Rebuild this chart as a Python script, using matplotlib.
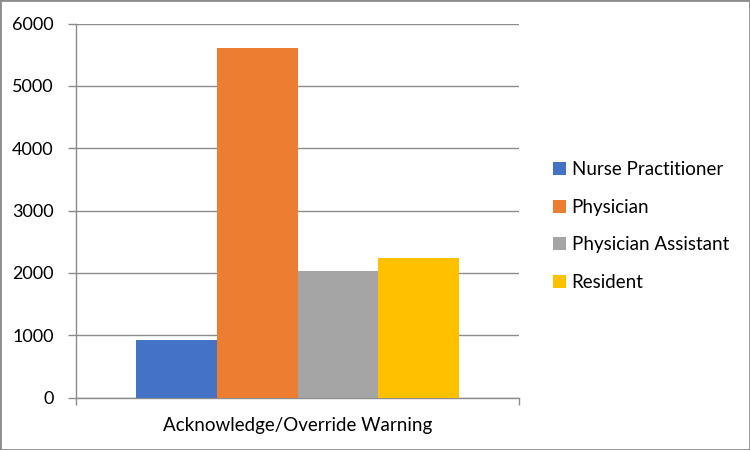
import matplotlib
matplotlib.use("Agg")
import matplotlib.pyplot as plt
from matplotlib.patches import Rectangle
import numpy as np

category = "Acknowledge/Override Warning"
series = ["Nurse Practitioner", "Physician", "Physician Assistant", "Resident"]
values = [920, 5610, 2030, 2235]
colors = ["#4472C4", "#ED7D31", "#A5A5A5", "#FFC000"]
yticks = [0, 1000, 2000, 3000, 4000, 5000, 6000]

plt.rcParams['font.family'] = ['Lato', 'DejaVu Sans']

fig = plt.figure(figsize=7.5 * np.array([1, 0.6]), dpi=100)
ax = fig.add_axes([76 / 750, 1 - 397.5 / 450, 443 / 750, 374 / 450])

bw = 0.1825
n = len(series)
for i, (s, v, c) in enumerate(zip(series, values, colors)):
    x = (i - (n - 1) / 2) * bw
    ax.bar(x, v, width=bw, color=c, label=s, zorder=3, linewidth=0)

ax.set_xlim(-0.5, 0.5)
ax.set_ylim(0, 6000)
ax.set_yticks(yticks)
ax.set_yticklabels([str(t) for t in yticks], fontsize=13)
ax.yaxis.grid(True, color="#8c8c8c", linewidth=1, zorder=0)
ax.tick_params(axis='y', length=6, width=1, color="#8c8c8c", pad=10)

ax.set_xticks([-0.5, 0.5])
ax.set_xticklabels(["", ""])
ax.tick_params(axis='x', length=5, width=1, color="#8c8c8c")
ax.text(0.5, -0.074, category, transform=ax.transAxes, ha='center', va='center',
        fontsize=13.5)

for sp in ["top", "right"]:
    ax.spines[sp].set_visible(False)
for sp in ["left", "bottom"]:
    ax.spines[sp].set_color("#8c8c8c")
    ax.spines[sp].set_linewidth(1)
ax.spines["left"].set_bounds(0, 6000)

leg = fig.legend(loc="center left", bbox_to_anchor=(536 / 750, 1 - 226 / 450),
                 frameon=False, fontsize=13.5, handlelength=0.7, handleheight=0.7,
                 handletextpad=0.3, labelspacing=1.1)

fig.patches.append(Rectangle((0, 0), 1, 1, transform=fig.transFigure, fill=False,
                             edgecolor="#8c8c8c", linewidth=2, zorder=10))

fig.savefig("out.png", dpi=100)
